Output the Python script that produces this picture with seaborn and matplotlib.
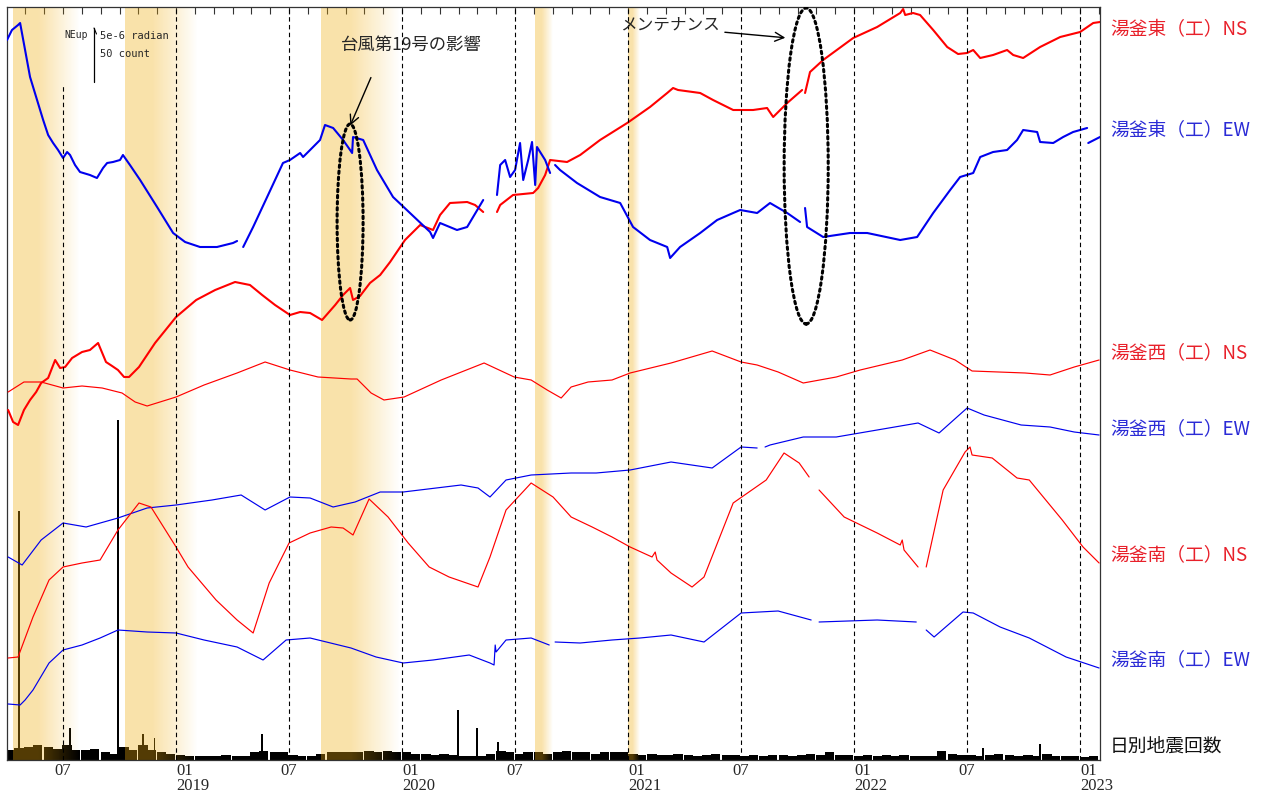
import numpy as np
import pandas as pd
import matplotlib
matplotlib.use("Agg")
import matplotlib.pyplot as plt
from matplotlib.patches import Ellipse
import seaborn as sns

# time in decimal years, tilt as plot offset (54 units = 5e-6 radian), None = data gap
east_ns_t = [2018.257, 2018.279, 2018.301, 2018.327, 2018.354, 2018.381, 2018.403, 2018.434, 2018.465, 2018.487,
             2018.509, 2018.540, 2018.584, 2018.619, 2018.655, 2018.690, 2018.717, 2018.743, 2018.770, 2018.792,
             2018.836, 2018.907, 2019.000, 2019.089, 2019.173, 2019.261, 2019.327, 2019.381, 2019.438, 2019.504,
             2019.549, 2019.593, 2019.646, 2019.704, 2019.739, 2019.770, 2019.783, 2019.814, 2019.858, 2019.903,
             2019.947, 2020.013, 2020.080, 2020.137, 2020.168, 2020.212, 2020.288, 2020.323, 2020.359, None,
             2020.420, 2020.434, 2020.491, 2020.580, 2020.602, 2020.633, 2020.655, 2020.730, 2020.788, 2020.876,
             2020.996, 2021.097, 2021.173, 2021.199, 2021.221, 2021.319, 2021.376, 2021.465, 2021.553, 2021.615,
             2021.642, 2021.704, 2021.770, None, 2021.783, 2021.805, 2021.863, 2021.996, 2022.102, 2022.204,
             2022.217, 2022.226, 2022.261, 2022.292, 2022.350, 2022.412, 2022.460, 2022.500, 2022.527, 2022.558,
             2022.615, 2022.677, 2022.704, 2022.748, 2022.823, 2022.912, 2023.000, 2023.058, 2023.088]
east_ns_v = [350, 338, 335, 350, 360, 368, 377, 382, 400, 392,
             393, 402, 408, 410, 417, 398, 394, 390, 383, 383,
             393, 417, 443, 460, 470, 478, 475, 465, 455, 445,
             448, 447, 440, 455, 465, 472, 460, 464, 477, 485,
             498, 520, 535, 530, 545, 557, 558, 555, 548, None,
             548, 555, 565, 567, 572, 585, 600, 598, 605, 620,
             637, 653, 667, 672, 670, 667, 660, 650, 650, 652,
             643, 657, 670, None, 667, 688, 700, 722, 733, 747,
             751, 745, 747, 745, 730, 713, 706, 707, 710, 702,
             705, 710, 705, 702, 713, 723, 728, 737, 738]

east_ew_t = [2018.252, 2018.274, 2018.301, 2018.310, 2018.332, 2018.354, 2018.385, 2018.412, 2018.434, 2018.456,
             2018.478, 2018.500, 2018.518, 2018.531, 2018.553, 2018.575, 2018.619, 2018.650, 2018.677, 2018.695,
             2018.721, 2018.752, 2018.765, 2018.796, 2018.841, 2018.916, 2018.987, 2019.040, 2019.106, 2019.181,
             2019.252, 2019.270, None, 2019.297, 2019.341, 2019.403, 2019.473, 2019.504, 2019.549, 2019.562,
             2019.593, 2019.637, 2019.659, 2019.695, 2019.739, 2019.770, 2019.779, 2019.783, 2019.828, 2019.889,
             2019.960, 2020.035, 2020.124, 2020.137, 2020.168, 2020.243, 2020.288, 2020.359, None, 2020.420,
             2020.434, 2020.456, 2020.478, 2020.500, 2020.522, 2020.536, 2020.558, 2020.575, 2020.589, 2020.597,
             2020.633, 2020.655, None, 2020.677, 2020.699, 2020.774, 2020.876, 2020.965, 2021.022, 2021.097,
             2021.173, 2021.186, 2021.230, 2021.319, 2021.394, 2021.465, 2021.496, 2021.571, 2021.628, 2021.704,
             2021.761, None, 2021.783, 2021.792, 2021.863, 2021.982, 2022.058, 2022.204, 2022.279, 2022.350,
             2022.425, 2022.469, 2022.527, 2022.558, 2022.615, 2022.677, 2022.721, 2022.748, 2022.810, 2022.823,
             2022.881, 2022.925, 2022.969, 2023.031, None, 2023.036, 2023.088]
east_ew_v = [720, 730, 735, 737, 710, 683, 660, 640, 625, 617,
             610, 602, 608, 605, 595, 588, 585, 582, 592, 597,
             598, 600, 605, 595, 580, 553, 527, 518, 513, 513,
             517, 519, None, 513, 533, 563, 597, 600, 607, 603,
             610, 620, 635, 632, 620, 610, 607, 623, 620, 590,
             563, 547, 528, 522, 537, 530, 533, 560, None, 565,
             595, 600, 583, 590, 617, 580, 600, 618, 575, 613,
             600, 587, None, 595, 590, 577, 563, 557, 533, 520,
             513, 502, 513, 527, 540, 547, 550, 547, 557, 547,
             538, None, 552, 533, 523, 527, 527, 520, 523, 547,
             570, 583, 587, 603, 608, 610, 620, 630, 628, 618,
             617, 623, 628, 632, None, 617, 623]

west_ns_t = [2018.257, 2018.327, 2018.403, 2018.500, 2018.584, 2018.673, 2018.761, 2018.819, 2018.872, 2019.000,
             2019.124, 2019.270, 2019.394, 2019.504, 2019.628, 2019.774, 2019.801, 2019.863, 2019.920, 2020.009,
             2020.173, 2020.363, 2020.496, 2020.571, 2020.642, 2020.704, 2020.748, 2020.823, 2020.929, 2021.009,
             2021.190, 2021.372, 2021.500, 2021.571, 2021.664, 2021.775, 2021.921, 2022.027, 2022.213, 2022.336,
             2022.447, 2022.522, 2022.757, 2022.867, 2022.974, 2023.084]
west_ns_v = [368, 378, 378, 372, 374, 372, 367, 358, 354, 363,
             375, 387, 398, 390, 383, 381, 381, 367, 360, 363,
             380, 397, 383, 380, 370, 362, 373, 378, 380, 387,
             397, 409, 398, 395, 388, 377, 383, 390, 400, 410,
             400, 389, 387, 385, 393, 400]

west_ew_t = [2018.257, 2018.319, 2018.403, 2018.500, 2018.602, 2018.743, 2018.872, 2019.000, 2019.159, 2019.288,
             2019.394, 2019.504, 2019.593, 2019.695, 2019.792, 2019.903, 2020.005, 2020.261, 2020.336, 2020.389,
             2020.460, 2020.571, 2020.748, 2020.859, 2021.009, 2021.190, 2021.372, 2021.500, 2021.571, None,
             2021.606, 2021.628, 2021.775, 2021.921, 2022.102, 2022.283, 2022.376, 2022.500, 2022.575, 2022.739,
             2022.867, 2022.974, 2023.084]
west_ew_v = [203, 195, 220, 237, 233, 242, 252, 255, 260, 265,
             250, 263, 262, 253, 258, 268, 268, 275, 272, 263,
             280, 285, 287, 287, 290, 298, 292, 313, 312, None,
             313, 315, 323, 323, 330, 337, 327, 352, 345, 335,
             333, 328, 325]

south_ns_t = [2018.257, 2018.301, 2018.367, 2018.438, 2018.500, 2018.584, 2018.664, 2018.743, 2018.836, 2018.889,
              2019.000, 2019.053, 2019.177, 2019.270, 2019.341, 2019.412, 2019.500, 2019.593, 2019.686, 2019.739,
              2019.783, 2019.854, 2019.938, 2020.027, 2020.120, 2020.208, 2020.336, 2020.389, 2020.460, 2020.571,
              2020.668, 2020.748, 2020.841, 2020.929, 2021.009, 2021.106, 2021.120, 2021.128, 2021.190, 2021.283,
              2021.336, 2021.465, 2021.611, 2021.690, 2021.757, 2021.801, None, 2021.845, 2021.956, 2022.102,
              2022.204, 2022.213, 2022.221, 2022.283, None, 2022.319, 2022.394, 2022.491, 2022.513, 2022.522,
              2022.611, 2022.721, 2022.775, 2022.921, 2023.013, 2023.084]
south_ns_v = [102, 103, 143, 180, 193, 197, 200, 230, 257, 253,
              213, 193, 160, 140, 127, 177, 217, 227, 233, 232,
              225, 261, 243, 217, 193, 183, 173, 203, 250, 277,
              263, 243, 233, 223, 213, 203, 208, 200, 187, 173,
              183, 257, 280, 307, 297, 283, None, 270, 243, 227,
              215, 220, 210, 193, None, 193, 270, 308, 313, 305,
              302, 282, 280, 240, 213, 197]

south_ew_t = [2018.257, 2018.310, 2018.332, 2018.367, 2018.438, 2018.500, 2018.584, 2018.664, 2018.743, 2018.872,
              2019.000, 2019.124, 2019.270, 2019.385, 2019.487, 2019.593, 2019.774, 2019.885, 2020.005, 2020.137,
              2020.297, 2020.389, 2020.407, 2020.412, 2020.416, 2020.460, 2020.571, 2020.651, None, 2020.677,
              2020.788, 2020.929, 2021.053, 2021.190, 2021.336, 2021.500, 2021.664, 2021.810, None, 2021.845,
              2022.102, 2022.275, None, 2022.319, 2022.354, 2022.482, 2022.527, 2022.646, 2022.775, 2022.938,
              2023.084]
south_ew_v = [56, 55, 60, 70, 97, 110, 115, 122, 130, 128,
              127, 120, 113, 100, 120, 122, 112, 103, 97, 100,
              105, 97, 95, 115, 108, 120, 122, 115, None, 118,
              117, 120, 122, 125, 118, 147, 149, 140, None, 138,
              140, 138, None, 130, 123, 148, 147, 133, 122, 103,
              92]

# earthquake counts: half-month level from 2018-04-01, plus single-day spikes
quake_level = [9, 11, 12, 14, 12, 10, 14, 9, 9, 10, 7, 6,
               12, 9, 14, 9, 7, 6, 5, 4, 4, 4, 4, 5,
               4, 4, 7, 8, 7, 7, 5, 4, 4, 6, 7, 7,
               7, 7, 8, 7, 8, 7, 7, 6, 6, 5, 6, 5,
               4, 4, 4, 6, 8, 7, 6, 7, 7, 6, 7, 8,
               7, 7, 6, 7, 7, 7, 6, 5, 6, 5, 5, 6,
               5, 4, 5, 6, 5, 5, 4, 5, 4, 5, 5, 4,
               5, 6, 5, 7, 5, 5, 4, 5, 4, 5, 4, 5,
               4, 4, 4, 8, 6, 5, 5, 4, 5, 6, 5, 4,
               5, 4, 6, 4, 4, 4, 3, 4]
spike_t = [2018.305, 2018.531, 2018.743, 2018.854, 2018.905, 2019.381, 2020.248, 2020.332, 2020.425,
           2022.571, 2022.823]
spike_n = [231, 30, 315, 24, 20, 24, 46, 30, 17, 11, 15]
count_scale = 54 / 50

# shaded (snow) periods
shade_start = [2018.279, 2018.774, 2019.642, 2020.588, 2021.000]
shade_end = [2018.575, 2019.093, 2019.991, 2020.664, 2021.053]

RED = "#ff0000"
BLUE = "#0000ee"

sns.set_theme(style="white")
plt.rcParams["font.family"] = ["Noto Sans CJK JP", "DejaVu Sans"]

fig = plt.figure(figsize=(12.75, 7.94), dpi=100)
ax = fig.add_axes([7 / 1275, 34 / 794, 1093 / 1275, 753 / 794])

# earthquake bars
slot_dates = pd.date_range("2018-04-01", periods=len(quake_level), freq="SMS")
slot_t = slot_dates.year + (slot_dates.dayofyear - 1) / 365.0
ax.bar(slot_t, np.array(quake_level) * count_scale, width=1 / 24, align="edge",
       color="black", linewidth=0, zorder=2)
ax.bar(spike_t, np.array(spike_n) * count_scale, width=0.006, color="black", linewidth=0, zorder=2)

# tilt lines
series = [
    (east_ns_t, east_ns_v, RED, 1.5),
    (east_ew_t, east_ew_v, BLUE, 1.5),
    (west_ns_t, west_ns_v, RED, 0.85),
    (west_ew_t, west_ew_v, BLUE, 0.85),
    (south_ns_t, south_ns_v, RED, 0.85),
    (south_ew_t, south_ew_v, BLUE, 0.85),
]
for t, v, c, lw in series:
    df = pd.DataFrame({"t": t, "v": v}, dtype=float)
    df["seg"] = df["v"].isna().cumsum()
    df = df.dropna()
    sns.lineplot(data=df, x="t", y="v", units="seg", estimator=None, sort=False,
                 color=c, lw=lw, ax=ax, legend=False, zorder=3)

# shaded periods, fading to the right (over the bars, under the lines)
for s, e in zip(shade_start, shade_end):
    u = np.linspace(0, 1, 200)
    img = np.zeros((1, 200, 4))
    img[..., 0], img[..., 1], img[..., 2] = 0.945, 0.675, 0.05
    img[0, :, 3] = np.clip((1 - u) / 0.62, 0, 1) * 0.35
    ax.imshow(img, extent=(s, e, 0, 753), aspect="auto", origin="lower",
              interpolation="bilinear", zorder=2.5)

# half-year dashed lines and ticks
half_years = [2018.5 + 0.5 * i for i in range(10)]
for i, h in enumerate(half_years):
    ax.axvline(h, color="black", lw=0.8, ls=(0, (4, 3)), zorder=5,
               ymax=0.896 if i == 0 else 1)
labels = ["07" if h % 1 else "01\n%d" % h for h in half_years]
ax.set_xticks(half_years)
ax.set_xticklabels(labels, fontfamily="Liberation Serif", fontsize=12, linespacing=0.9)
for lab, h in zip(ax.get_xticklabels(), half_years):
    if h % 1 == 0:
        lab.set_horizontalalignment("left")
ax.set_xticks([2018 + m / 12 for m in range(3, 62)], minor=True)
ax.tick_params(axis="x", which="both", bottom=False, top=True, direction="in",
               length=5, width=0.8, color="#333333", labelbottom=True, pad=2)
ax.set_yticks([])
ax.set_xlabel("")
ax.set_ylabel("")
for sp in ax.spines.values():
    sp.set_color("#333333")
    sp.set_linewidth(0.9)

# scale legend
mono = "DejaVu Sans Mono"
ax.text(2018.505, 725, "NEup", fontsize=7, family=mono, va="center", ha="left", zorder=7)
ax.plot([2018.637, 2018.637], [732 - 54, 732], color="black", lw=0.9, zorder=7)
ax.plot([2018.637, 2018.648], [732, 726], color="black", lw=0.8, zorder=7)
ax.text(2018.664, 724, "5e-6 radian", fontsize=7.5, family=mono, va="center", ha="left", zorder=7)
ax.text(2018.664, 706, "50 count", fontsize=7.5, family=mono, va="center", ha="left", zorder=7)

# annotations
ax.text(2020.040, 715, "台風第19号の影響", fontsize=12.5, ha="center", va="center", zorder=7)
ax.annotate("", xy=(2019.766, 632), xytext=(2019.867, 685),
            arrowprops=dict(arrowstyle="->", color="black", lw=1, mutation_scale=16), zorder=7)
ax.add_patch(Ellipse((2019.770, 538), 0.115, 196, fill=False, ec="black",
                     lw=2.2, ls=(0, (0.8, 1.2)), capstyle="round", zorder=6))

ax.text(2021.186, 735, "メンテナンス", fontsize=12, ha="center", va="center", zorder=7)
ax.annotate("", xy=(2021.708, 722), xytext=(2021.416, 728),
            arrowprops=dict(arrowstyle="->", color="black", lw=1, mutation_scale=16), zorder=7)
ax.add_patch(Ellipse((2021.788, 594), 0.195, 316, fill=False, ec="black",
                     lw=2.2, ls=(0, (0.8, 1.2)), capstyle="round", zorder=6))

ax.set_xlim(2018.252, 2023.088)
ax.set_ylim(0, 753)

# station labels on the right
side_labels = [
    ("湯釜東（工）NS", 30, "#e8202a"),
    ("湯釜東（工）EW", 131, "#2b2bd6"),
    ("湯釜西（工）NS", 353, "#e8202a"),
    ("湯釜西（工）EW", 429, "#2b2bd6"),
    ("湯釜南（工）NS", 555, "#e8202a"),
    ("湯釜南（工）EW", 660, "#2b2bd6"),
    ("日別地震回数", 746, "#111111"),
]
for txt, ypix, col in side_labels:
    fig.text(1110 / 1275, 1 - ypix / 794, txt, color=col, fontsize=13.5, va="center", ha="left")

fig.savefig("out.png", dpi=100)
